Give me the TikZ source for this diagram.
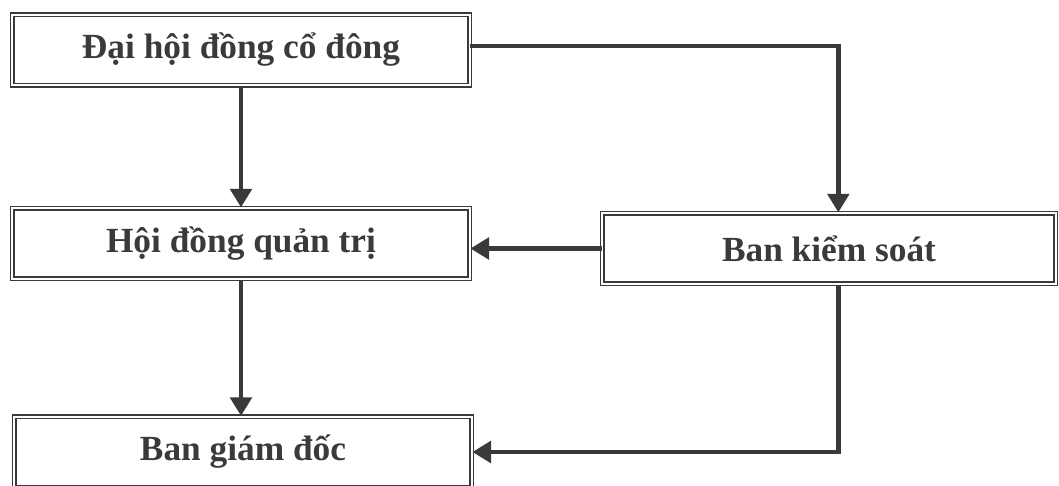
\documentclass[tikz,border=0pt]{standalone}
\usepackage{fontspec}
\setmainfont{Liberation Serif}
\usetikzlibrary{arrows.meta}

\definecolor{inkgray}{HTML}{3A3A3A}

\tikzset{
	orgbox/.style={draw=inkgray, double, double distance=1.6pt, line width=1.1pt,
		minimum width=343pt, minimum height=53pt, inner sep=0pt,
		text=inkgray, font=\fontsize{26.5}{30}\selectfont\bfseries},
	link/.style={draw=inkgray, line width=3.6pt,
		-{Triangle[length=14pt,width=16pt]}}
}

\begin{document}
\begin{tikzpicture}[x=0.75pt,y=-0.75pt]
		\useasboundingbox (0,0) rectangle (1059,485);
		\node[orgbox] (dhcd) at (241,50) {Đại hội đồng cổ đông};
		\node[orgbox] (hdqt) at (241,243.5) {Hội đồng quản trị};
		\node[orgbox,minimum width=340pt] (bks) at (829,248.5) {Ban kiểm soát};
		\node[orgbox] (bgd) at (243,452) {Ban giám đốc};
		\draw[link] (dhcd) -- (hdqt);
		\draw[link] (hdqt) -- (hdqt |- bgd.north);
		\draw[link] ([yshift=3pt]dhcd.east) -| ([xshift=7pt]bks.north);
		\draw[link] (bks.west) -- (bks.west -| hdqt.east);
		\draw[link] ([xshift=7pt]bks.south) |- (bgd.east);
	\end{tikzpicture}
\end{document}
